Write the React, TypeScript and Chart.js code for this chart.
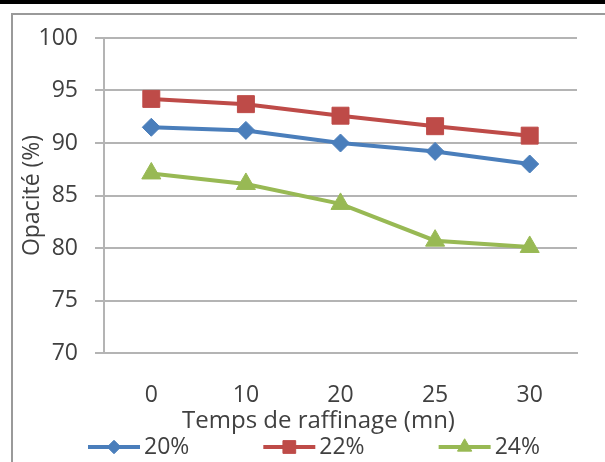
import React, { useEffect, useRef } from 'react';
import { Chart, registerables } from 'chart.js';
import { drawPoint } from 'chart.js/helpers';

Chart.register(...registerables);

const categories = ['0', '10', '20', '25', '30'];
const series20 = [91.5, 91.2, 90.0, 89.2, 88.0];
const series22 = [94.2, 93.7, 92.6, 91.6, 90.7];
const series24 = [87.1, 86.1, 84.2, 80.7, 80.1];
const seriesLabels = ['20%', '22%', '24%'];
const yMin = 70;
const yMax = 100;
const yStep = 5;
const xTitle = 'Temps de raffinage (mn)';
const yTitle = 'Opacité (%)';

const FONT = "'Open Sans', sans-serif";
const FSIZE = 23;
const TEXT = '#404040';
const GRID = '#b4b4b4';

const legendPlugin = {
  id: 'lineLegend',
  afterDraw(chart: any) {
    const ctx = chart.ctx;
    ctx.save();
    // x-axis title, centred on the whole chart box (as in the original)
    ctx.font = `24px ${FONT}`;
    ctx.fillStyle = TEXT;
    ctx.textAlign = 'center';
    ctx.textBaseline = 'middle';
    ctx.fillText(xTitle, chart.width / 2 + 16, 421);

    const y = 447;
    let x = 88;
    ctx.font = `${FSIZE}px ${FONT}`;
    ctx.textBaseline = 'middle';
    ctx.textAlign = 'left';
    chart.data.datasets.forEach((ds: any) => {
      const lineLen = 52;
      ctx.strokeStyle = ds.borderColor;
      ctx.lineWidth = 4;
      ctx.beginPath();
      ctx.moveTo(x, y);
      ctx.lineTo(x + lineLen, y);
      ctx.stroke();
      ctx.fillStyle = ds.pointBackgroundColor;
      ctx.strokeStyle = ds.pointBackgroundColor;
      ctx.lineWidth = 1;
      drawPoint(ctx, { pointStyle: ds.pointStyle, radius: ds.pointRadius * 0.75, borderWidth: 1, rotation: 0 }, x + lineLen / 2, y);
      ctx.fillStyle = TEXT;
      ctx.fillText(ds.label, x + lineLen + 4, y);
      const w = ctx.measureText(ds.label).width;
      x += lineLen + 4 + w + 74;
    });
    ctx.restore();
  },
};

export default function App() {
  const ref = useRef<HTMLCanvasElement>(null);
  useEffect(() => {
    if (!ref.current) return;
    const mk = (label: string, data: number[], color: string, style: string, r: number) => ({
      label,
      data,
      borderColor: color,
      backgroundColor: color,
      pointBackgroundColor: color,
      pointBorderColor: color,
      pointBorderWidth: 1,
      borderWidth: 4,
      pointStyle: style,
      pointRadius: r,
      tension: 0,
    });
    const chart = new Chart(ref.current, {
      type: 'line',
      data: {
        labels: categories,
        datasets: [
          mk(seriesLabels[0], series20, '#4a7ebb', 'rectRot', 9),
          mk(seriesLabels[1], series22, '#be4b48', 'rect', 12),
          mk(seriesLabels[2], series24, '#98b954', 'triangle', 11),
        ],
      },
      options: {
        responsive: false,
        animation: false,
        layout: { padding: { top: 38, right: 28, bottom: 19, left: 0 } },
        plugins: { legend: { display: false }, tooltip: { enabled: false } },
        scales: {
          x: {
            offset: true,
            grid: { display: false, drawTicks: false },
            border: { display: true, color: GRID, width: 2 },
            ticks: { color: TEXT, font: { family: FONT, size: FSIZE }, padding: 29 },
            title: { display: false, text: xTitle },
            afterFit: (s: any) => { s.height = 90; },
          },
          y: {
            min: yMin,
            max: yMax,
            ticks: { stepSize: yStep, color: TEXT, font: { family: FONT, size: FSIZE }, padding: 17 },
            grid: { color: GRID, lineWidth: 2, tickLength: 9, drawTicks: true },
            border: { display: true, color: GRID, width: 2 },
            title: { display: true, text: yTitle, color: TEXT, font: { family: FONT, size: FSIZE }, padding: { top: 19, bottom: 0 } },
            afterFit: (s: any) => { s.width = 104; },
          },
        },
      },
      plugins: [legendPlugin],
    } as any);
    return () => chart.destroy();
  }, []);
  return (
    <div style={{ position: 'fixed', left: 0, top: 0, width: 605, height: 462, background: '#fff', overflow: 'hidden' }}>
      <div style={{ position: 'absolute', left: 0, top: 0, width: 605, height: 4, background: '#000' }} />
      <div style={{ position: 'absolute', left: 11, top: 13, width: 605, height: 462, borderLeft: '2px solid #9a9a9a', borderTop: '2px solid #9a9a9a' }} />
      <canvas ref={ref} width={605} height={462} style={{ position: 'absolute', left: 0, top: 0 }} />
    </div>
  );
}
